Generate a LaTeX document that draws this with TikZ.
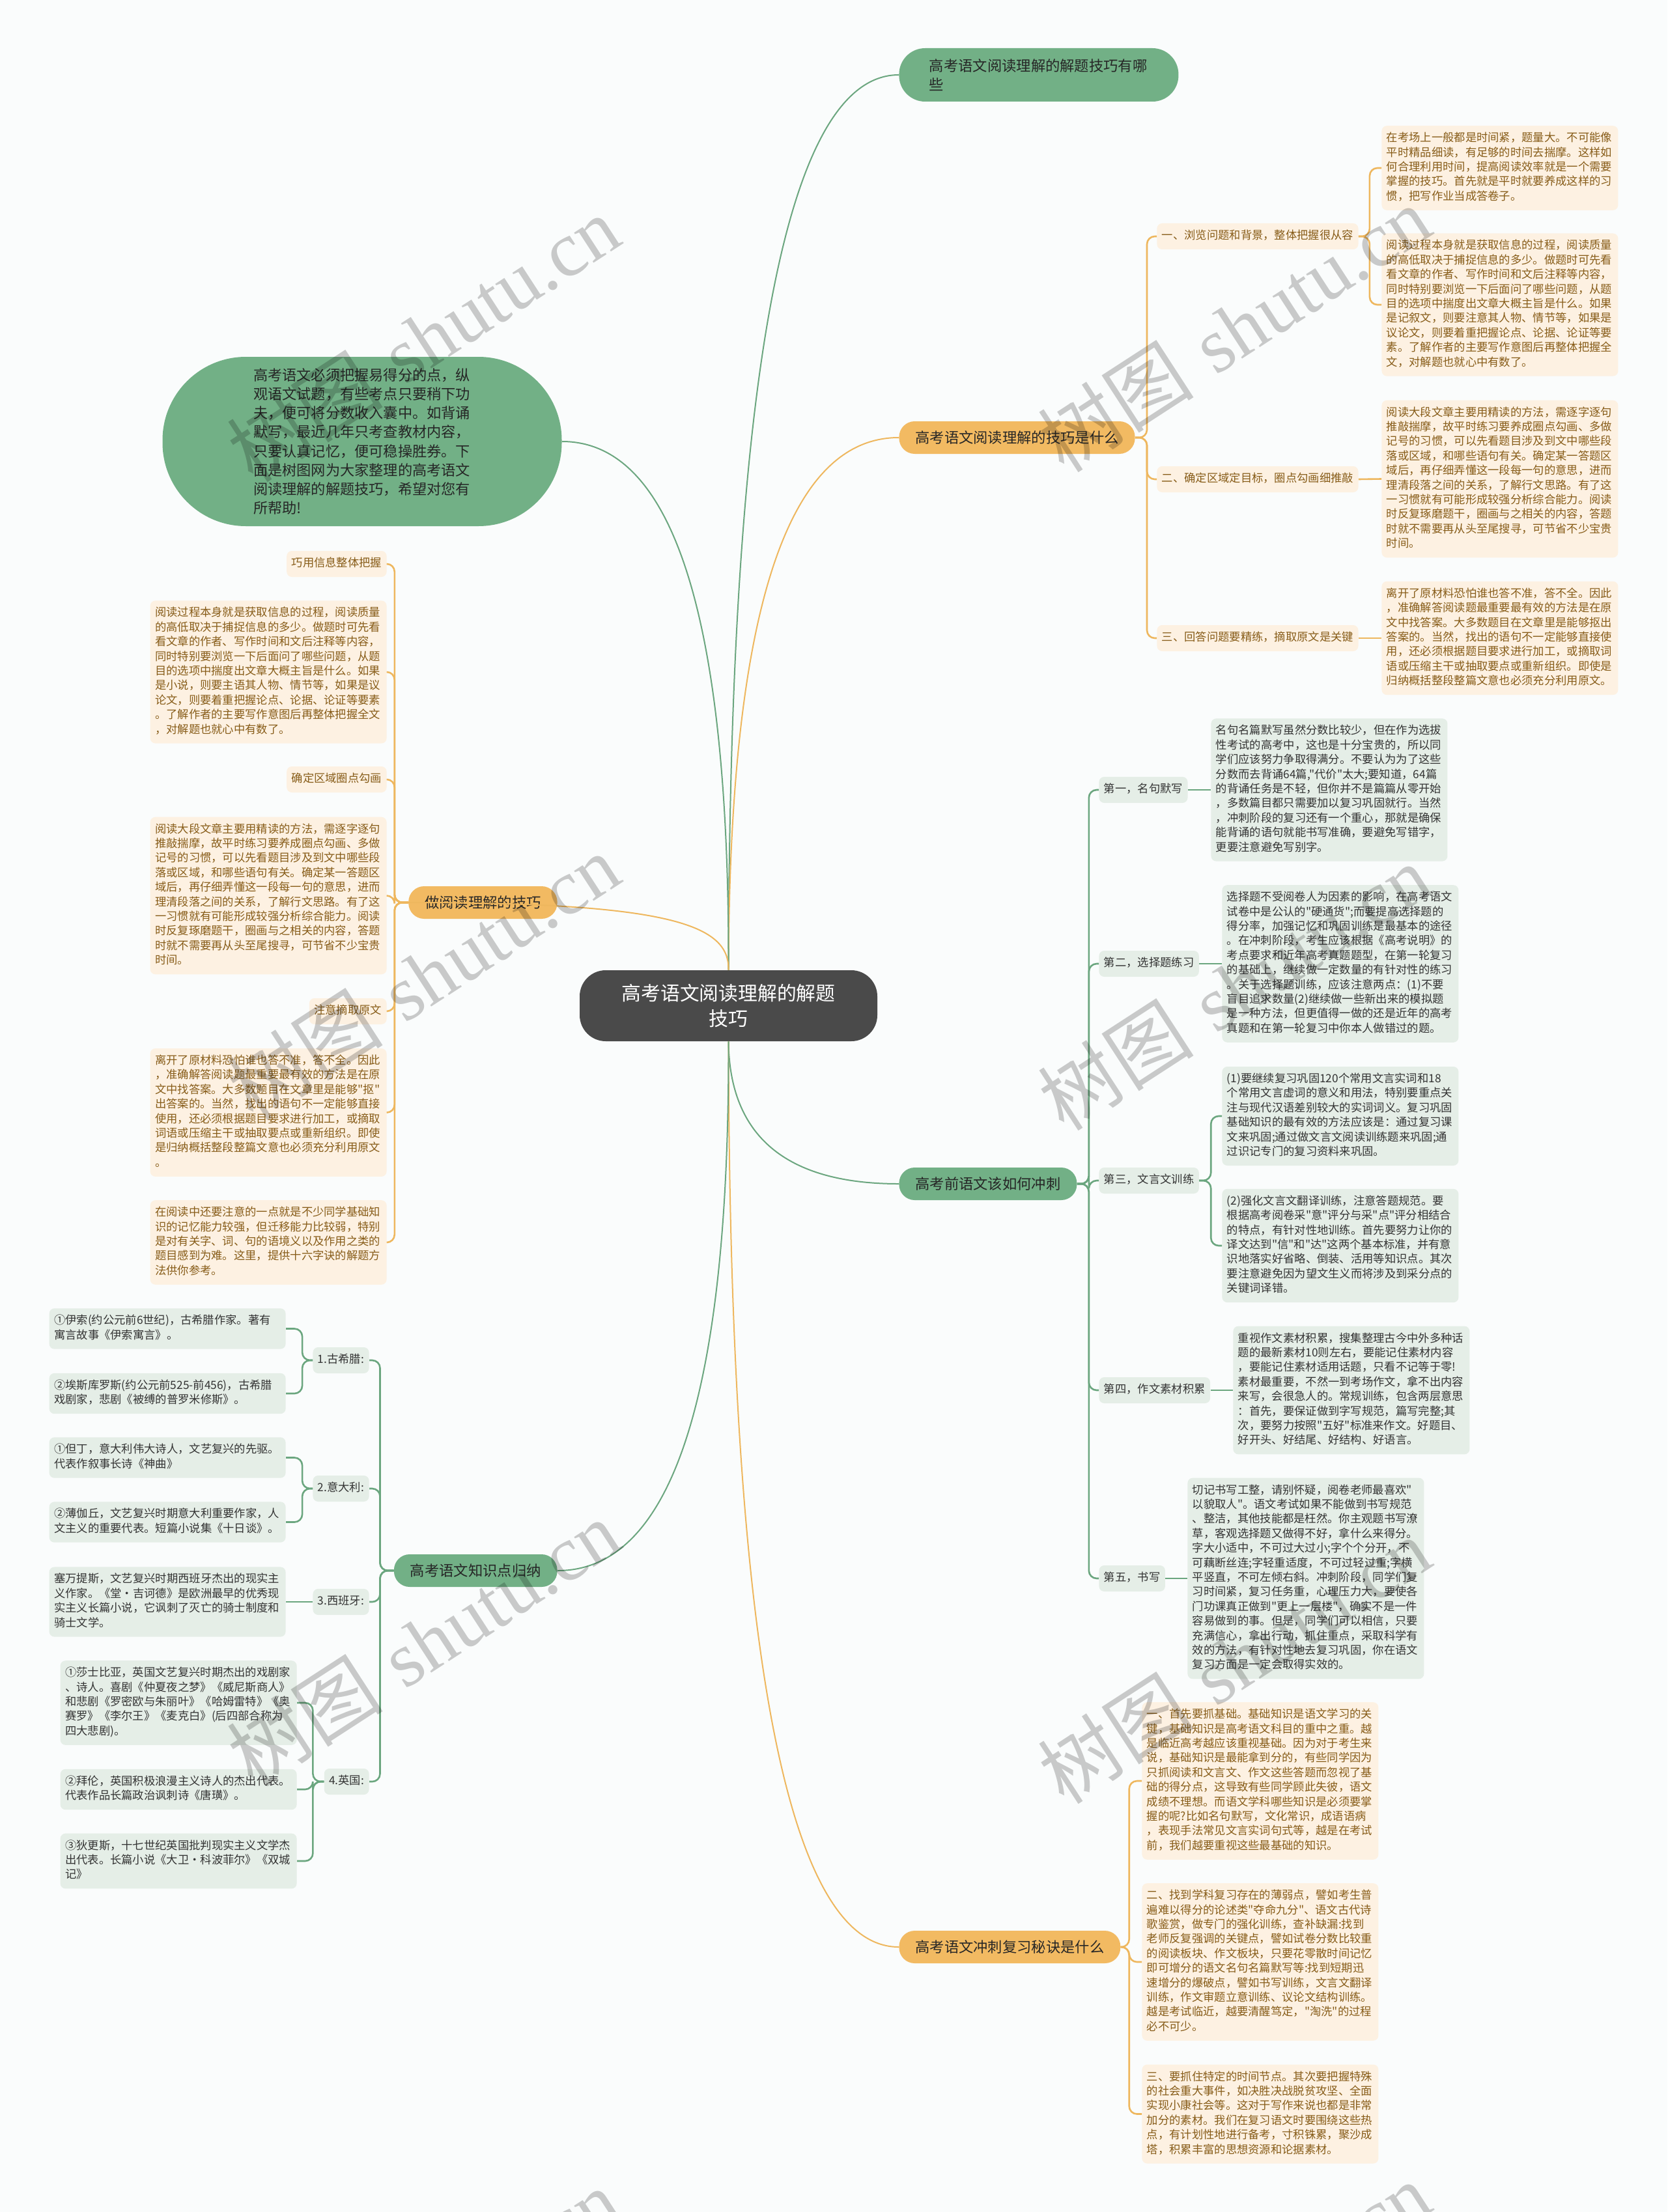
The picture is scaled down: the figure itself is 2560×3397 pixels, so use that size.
\documentclass[tikz,border=0pt]{standalone}
\usepackage{fontspec}
\newfontfamily\cjk{Noto Sans CJK SC}
\newfontfamily\wmserif{Liberation Serif}
\definecolor{bgc}{RGB}{250,252,252}
\definecolor{gpill}{RGB}{114,176,134}
\definecolor{opill}{RGB}{242,186,98}
\definecolor{gline}{RGB}{107,166,127}
\definecolor{oline}{RGB}{238,183,94}
\definecolor{ofill}{RGB}{253,241,226}
\definecolor{otext}{RGB}{135,92,24}
\definecolor{gfill}{RGB}{229,238,231}
\definecolor{gtext}{RGB}{51,51,51}
\definecolor{cfill}{RGB}{74,74,74}
\begin{document}
\begin{tikzpicture}[x=0.5pt,y=-0.5pt,
  dtl/.style={font=\cjk\fontsize{8.65}{11.2}\selectfont, inner xsep=3.75pt, inner ysep=4.4pt, rounded corners=4pt, execute at begin node=\strut, execute at end node=\strut},
  obox/.style={dtl, fill=ofill, text=otext, align=left, text width=174pt},
  gbox/.style={dtl, fill=gfill, text=gtext, align=left, text width=174pt},
  olab/.style={dtl, fill=ofill, text=otext},
  glab/.style={dtl, fill=gfill, text=gtext},
  bnode/.style={font=\cjk\fontsize{11.15}{14.5}\selectfont, inner xsep=12.5pt, inner ysep=0pt, minimum height=25pt, rounded corners=12pt, text=black!85},
  ob/.style={bnode, fill=opill},
  gb/.style={bnode, fill=gpill},
  ol/.style={draw=oline, line width=1pt},
  gl/.style={draw=gline, line width=1pt},
  olb/.style={draw=oline, line width=1.3pt, rounded corners=6pt},
  glb/.style={draw=gline, line width=1.3pt, rounded corners=6pt},
  wm/.style={rotate=33, text=black, text opacity=0.2, font=\fontsize{60}{60}\selectfont}
]
\useasboundingbox (0,0) rectangle (2560,3397);
\fill[bgc] (0,0) rectangle (2560,3397);

% centre
\node[fill=cfill, text=white, rounded corners=20pt, minimum width=228.5pt, minimum height=54.5pt, align=center, font=\cjk\fontsize{14.9}{19.5}\selectfont, inner sep=0pt] (cn) at (1118.5,1544.5) {高考语文阅读理解的解题\\技巧};

% ---------- right branch 1
\node[gb, anchor=west, align=left, text width=168pt, inner xsep=23.25pt, minimum height=41pt, rounded corners=20pt] (b1) at (1380,115) {高考语文阅读理解的解题技巧有哪\\些};

% ---------- right branch 2
\node[ob, anchor=west] (b2) at (1380,672) {高考语文阅读理解的技巧是什么};
\node[olab, anchor=west] (s1) at (1776,363) {一、浏览问题和背景，整体把握很从容};
\node[olab, anchor=west] (s2) at (1776,736) {二、确定区域定目标，圈点勾画细推敲};
\node[olab, anchor=west] (s3) at (1776,980) {三、回答问题要精练，摘取原文是关键};
\node[obox, anchor=west] (a1) at (2121,258) {在考场上一般都是时间紧，题量大。不可能像\\平时精品细读，有足够的时间去揣摩。这样如\\何合理利用时间，提高阅读效率就是一个需要\\掌握的技巧。首先就是平时就要养成这样的习\\惯，把写作业当成答卷子。};
\node[obox, anchor=west] (a2) at (2121,468) {阅读过程本身就是获取信息的过程，阅读质量\\的高低取决于捕捉信息的多少。做题时可先看\\看文章的作者、写作时间和文后注释等内容，\\同时特别要浏览一下后面问了哪些问题，从题\\目的选项中揣度出文章大概主旨是什么。如果\\是记叙文，则要注意其人物、情节等，如果是\\议论文，则要着重把握论点、论据、论证等要\\素。了解作者的主要写作意图后再整体把握全\\文，对解题也就心中有数了。};
\node[obox, anchor=west] (a3) at (2121,735.5) {阅读大段文章主要用精读的方法，需逐字逐句\\推敲揣摩，故平时练习要养成圈点勾画、多做\\记号的习惯，可以先看题目涉及到文中哪些段\\落或区域，和哪些语句有关。确定某一答题区\\域后，再仔细弄懂这一段每一句的意思，进而\\理清段落之间的关系，了解行文思路。有了这\\一习惯就有可能形成较强分析综合能力。阅读\\时反复琢磨题干，圈画与之相关的内容，答题\\时就不需要再从头至尾搜寻，可节省不少宝贵\\时间。};
\node[obox, anchor=west] (a4) at (2121,980) {离开了原材料恐怕谁也答不准，答不全。因此\\，准确解答阅读题最重要最有效的方法是在原\\文中找答案。大多数题目在文章里是能够抠出\\答案的。当然，找出的语句不一定能够直接使\\用，还必须根据题目要求进行加工，或摘取词\\语或压缩主干或抽取要点或重新组织。即使是\\归纳概括整段整篇文意也必须充分利用原文。};

% ---------- right branch 3
\node[gb, anchor=west] (b3) at (1380,1818) {高考前语文该如何冲刺};
\node[glab, anchor=west] (g1) at (1687,1213) {第一，名句默写};
\node[glab, anchor=west] (g2) at (1687,1480) {第二，选择题练习};
\node[glab, anchor=west] (g3) at (1687,1813) {第三，文言文训练};
\node[glab, anchor=west] (g4) at (1687,2135) {第四，作文素材积累};
\node[glab, anchor=west] (g5) at (1687,2424) {第五，书写};
\node[gbox, anchor=west] (d1) at (1859,1213) {名句名篇默写虽然分数比较少，但在作为选拔\\性考试的高考中，这也是十分宝贵的，所以同\\学们应该努力争取得满分。不要认为为了这些\\分数而去背诵64篇,"代价"太大;要知道，64篇\\的背诵任务是不轻，但你并不是篇篇从零开始\\，多数篇目都只需要加以复习巩固就行。当然\\，冲刺阶段的复习还有一个重心，那就是确保\\能背诵的语句就能书写准确，要避免写错字，\\更要注意避免写别字。};
\node[gbox, anchor=west] (d2) at (1876,1480) {选择题不受阅卷人为因素的影响，在高考语文\\试卷中是公认的"硬通货";而要提高选择题的\\得分率，加强记忆和巩固训练是最基本的途径\\。在冲刺阶段，考生应该根据《高考说明》的\\考点要求和近年高考真题题型，在第一轮复习\\的基础上，继续做一定数量的有针对性的练习\\。关于选择题训练，应该注意两点：(1)不要\\盲目追求数量(2)继续做一些新出来的模拟题\\是一种方法，但更值得一做的还是近年的高考\\真题和在第一轮复习中你本人做错过的题。};
\node[gbox, anchor=west] (d3) at (1876,1714) {(1)要继续复习巩固120个常用文言实词和18\\个常用文言虚词的意义和用法，特别要重点关\\注与现代汉语差别较大的实词词义。复习巩固\\基础知识的最有效的方法应该是：通过复习课\\文来巩固;通过做文言文阅读训练题来巩固;通\\过识记专门的复习资料来巩固。};
\node[gbox, anchor=west] (d4) at (1876,1913) {(2)强化文言文翻译训练，注意答题规范。要\\根据高考阅卷采"意"评分与采"点"评分相结合\\的特点，有针对性地训练。首先要努力让你的\\译文达到"信"和"达"这两个基本标准，并有意\\识地落实好省略、倒装、活用等知识点。其次\\要注意避免因为望文生义而将涉及到采分点的\\关键词译错。};
\node[gbox, anchor=west] (d5) at (1893,2135) {重视作文素材积累，搜集整理古今中外多种话\\题的最新素材10则左右，要能记住素材内容\\，要能记住素材适用话题，只看不记等于零!\\素材最重要，不然一到考场作文，拿不出内容\\来写，会很急人的。常规训练，包含两层意思\\：首先，要保证做到字写规范，篇写完整;其\\次，要努力按照"五好"标准来作文。好题目、\\好开头、好结尾、好结构、好语言。};
\node[gbox, anchor=west] (d6) at (1823,2424) {切记书写工整，请别怀疑，阅卷老师最喜欢"\\以貌取人"。语文考试如果不能做到书写规范\\、整洁，其他技能都是枉然。你主观题书写潦\\草，客观选择题又做得不好，拿什么来得分。\\字大小适中，不可过大过小;字个个分开，不\\可藕断丝连;字轻重适度，不可过轻过重;字横\\平竖直，不可左倾右斜。冲刺阶段，同学们复\\习时间紧，复习任务重，心理压力大，要使各\\门功课真正做到"更上一层楼"，确实不是一件\\容易做到的事。但是，同学们可以相信，只要\\充满信心，拿出行动，抓住重点，采取科学有\\效的方法，有针对性地去复习巩固，你在语文\\复习方面是一定会取得实效的。};

% ---------- right branch 4
\node[ob, anchor=west] (b4) at (1380,2990) {高考语文冲刺复习秘诀是什么};
\node[obox, anchor=west] (e1) at (1753,2735) {一、首先要抓基础。基础知识是语文学习的关\\键，基础知识是高考语文科目的重中之重。越\\是临近高考越应该重视基础。因为对于考生来\\说，基础知识是最能拿到分的，有些同学因为\\只抓阅读和文言文、作文这些答题而忽视了基\\础的得分点，这导致有些同学顾此失彼，语文\\成绩不理想。而语文学科哪些知识是必须要掌\\握的呢?比如名句默写，文化常识，成语语病\\，表现手法常见文言实词句式等，越是在考试\\前，我们越要重视这些最基础的知识。};
\node[obox, anchor=west] (e2) at (1753,3013) {二、找到学科复习存在的薄弱点，譬如考生普\\遍难以得分的论述类"夺命九分"、语文古代诗\\歌鉴赏，做专门的强化训练，查补缺漏:找到\\老师反复强调的关键点，譬如试卷分数比较重\\的阅读板块、作文板块，只要花零散时间记忆\\即可增分的语文名句名篇默写等:找到短期迅\\速增分的爆破点，譬如书写训练，文言文翻译\\训练，作文审题立意训练、议论文结构训练。\\越是考试临近，越要清醒笃定，"淘洗"的过程\\必不可少。};
\node[obox, anchor=west] (e3) at (1753,3246.5) {三、要抓住特定的时间节点。其次要把握特殊\\的社会重大事件，如决胜决战脱贫攻坚、全面\\实现小康社会等。这对于写作来说也都是非常\\加分的素材。我们在复习语文时要围绕这些热\\点，有计划性地进行备考，寸积铢累，聚沙成\\塔，积累丰富的思想资源和论据素材。};

% ---------- left: intro
\node[fill=gpill, rounded corners=64pt, minimum width=306.5pt, minimum height=130pt, inner sep=0pt, align=left, text width=167pt, text=black!85, font=\cjk\fontsize{11.1}{14.6}\selectfont] (intro) at (556,678) {高考语文必须把握易得分的点，纵\\观语文试题，有些考点只要稍下功\\夫，便可将分数收入囊中。如背诵\\默写，最近几年只考查教材内容，\\只要认真记忆，便可稳操胜券。下\\面是树图网为大家整理的高考语文\\阅读理解的解题技巧，希望对您有\\所帮助!};

% ---------- left: reading skills
\node[ob, anchor=east] (b5) at (856,1386) {做阅读理解的技巧};
\node[olab, anchor=east] (t1) at (594,866) {巧用信息整体把握};
\node[obox, anchor=east] (u1) at (594,1032) {阅读过程本身就是获取信息的过程，阅读质量\\的高低取决于捕捉信息的多少。做题时可先看\\看文章的作者、写作时间和文后注释等内容，\\同时特别要浏览一下后面问了哪些问题，从题\\目的选项中揣度出文章大概主旨是什么。如果\\是小说，则要主语其人物、情节等，如果是议\\论文，则要着重把握论点、论据、论证等要素\\。了解作者的主要写作意图后再整体把握全文\\，对解题也就心中有数了。};
\node[olab, anchor=east] (t2) at (594,1197) {确定区域圈点勾画};
\node[obox, anchor=east] (u2) at (594,1375.5) {阅读大段文章主要用精读的方法，需逐字逐句\\推敲揣摩，故平时练习要养成圈点勾画、多做\\记号的习惯，可以先看题目涉及到文中哪些段\\落或区域，和哪些语句有关。确定某一答题区\\域后，再仔细弄懂这一段每一句的意思，进而\\理清段落之间的关系，了解行文思路。有了这\\一习惯就有可能形成较强分析综合能力。阅读\\时反复琢磨题干，圈画与之相关的内容，答题\\时就不需要再从头至尾搜寻，可节省不少宝贵\\时间。};
\node[olab, anchor=east] (t3) at (594,1553) {注意摘取原文};
\node[obox, anchor=east] (u3) at (594,1708.5) {离开了原材料恐怕谁也答不准，答不全。因此\\，准确解答阅读题最重要最有效的方法是在原\\文中找答案。大多数题目在文章里是能够"抠"\\出答案的。当然，找出的语句不一定能够直接\\使用，还必须根据题目要求进行加工，或摘取\\词语或压缩主干或抽取要点或重新组织。即使\\是归纳概括整段整篇文意也必须充分利用原文\\。};
\node[obox, anchor=east] (u4) at (594,1908) {在阅读中还要注意的一点就是不少同学基础知\\识的记忆能力较强，但迁移能力比较弱，特别\\是对有关字、词、句的语境义以及作用之类的\\题目感到为难。这里，提供十六字诀的解题方\\法供你参考。};

% ---------- left: knowledge
\node[gb, anchor=east] (b6) at (856,2412) {高考语文知识点归纳};
\node[glab, anchor=east] (k1) at (567,2089) {1.古希腊:};
\node[glab, anchor=east] (k2) at (567,2286) {2.意大利:};
\node[glab, anchor=east] (k3) at (567,2460) {3.西班牙:};
\node[glab, anchor=east] (k4) at (567,2736) {4.英国:};
\node[gbox, anchor=east] (m1) at (439,2040.5) {①伊索(约公元前6世纪)，古希腊作家。著有\\寓言故事《伊索寓言》。};
\node[gbox, anchor=east] (m2) at (439,2140) {②埃斯库罗斯(约公元前525-前456)，古希腊\\戏剧家，悲剧《被缚的普罗米修斯》。};
\node[gbox, anchor=east] (m3) at (439,2238.5) {①但丁，意大利伟大诗人，文艺复兴的先驱。\\代表作叙事长诗《神曲》};
\node[gbox, anchor=east] (m4) at (439,2337.5) {②薄伽丘，文艺复兴时期意大利重要作家，人\\文主义的重要代表。短篇小说集《十日谈》。};
\node[gbox, anchor=east] (m5) at (439,2460) {塞万提斯，文艺复兴时期西班牙杰出的现实主\\义作家。《堂·吉诃德》是欧洲最早的优秀现\\实主义长篇小说，它讽刺了灭亡的骑士制度和\\骑士文学。};
\node[gbox, anchor=east] (m6) at (456,2615) {①莎士比亚，英国文艺复兴时期杰出的戏剧家\\、诗人。喜剧《仲夏夜之梦》《威尼斯商人》\\和悲剧《罗密欧与朱丽叶》《哈姆雷特》《奥\\赛罗》《李尔王》《麦克白》(后四部合称为\\四大悲剧)。};
\node[gbox, anchor=east] (m7) at (456,2748) {②拜伦，英国积极浪漫主义诗人的杰出代表。\\代表作品长篇政治讽刺诗《唐璜》。};
\node[gbox, anchor=east] (m8) at (456,2858) {③狄更斯，十七世纪英国批判现实主义文学杰\\出代表。长篇小说《大卫·科波菲尔》《双城\\记》};

% ---------- main connectors
\draw[gl] (cn.north) .. controls (1120,573) and (1207,115) .. (b1.west);
\draw[ol] (cn.north) .. controls (1120,945) and (1207,672) .. (b2.west);
\draw[gl] (cn.south) .. controls (1120,1745) and (1207,1818) .. (b3.west);
\draw[ol] (cn.south) .. controls (1120,2526) and (1207,2990) .. (b4.west);
\draw[gl] (cn.north) .. controls (1120,949) and (1034,678) .. (intro.east);
\draw[ol] (cn.north) .. controls (1120,1421) and (1032,1386) .. (b5.west);
\draw[gl] (cn.south) .. controls (1120,2141) and (1032,2412) .. (b6.east);

% ---------- bracket connectors
\foreach \c in {s1,s2,s3} \draw[olb] (b2.east) -- ++(18,0) |- (\c.west);
\foreach \c in {a1,a2} \draw[olb] (s1.east) -- ++(17,0) |- (\c.west);
\draw[olb] (s2.east) -- (a3.west);
\draw[olb] (s3.east) -- (a4.west);
\foreach \c in {g1,g2,g3,g4,g5} \draw[glb] (b3.east) -- ++(18,0) |- (\c.west);
\draw[glb] (g1.east) -- (d1.west);
\draw[glb] (g2.east) -- (d2.west);
\foreach \c in {d3,d4} \draw[glb] (g3.east) -- ++(18,0) |- (\c.west);
\draw[glb] (g4.east) -- (d5.west);
\draw[glb] (g5.east) -- (d6.west);
\foreach \c in {e1,e2,e3} \draw[olb] (b4.east) -- ++(13,0) |- (\c.west);
\foreach \c in {t1,u1,t2,u2,t3,u3,u4} \draw[olb] (b5.west) -- ++(-21,0) |- (\c.east);
\foreach \c in {k1,k2,k3,k4} \draw[glb] (b6.west) -- ++(-21,0) |- (\c.east);
\foreach \c in {m1,m2} \draw[glb] (k1.west) -- ++(-16,0) |- (\c.east);
\foreach \c in {m3,m4} \draw[glb] (k2.west) -- ++(-16,0) |- (\c.east);
\draw[glb] (k3.west) -- (m5.east);
\foreach \c in {m6,m7,m8} \draw[glb] (k4.west) -- ++(-17,0) |- (\c.east);

% ---------- watermarks
\foreach \wx/\wy [count=\i] in {650/520,1895/505,650/1500,1895/1516,650/2523,1895/2550,650/3550,1895/3540}
  \node[wm] (wm\i) at (\wx,\wy) {{\cjk 树图} {\wmserif shutu.cn}};
\end{tikzpicture}
\end{document}
